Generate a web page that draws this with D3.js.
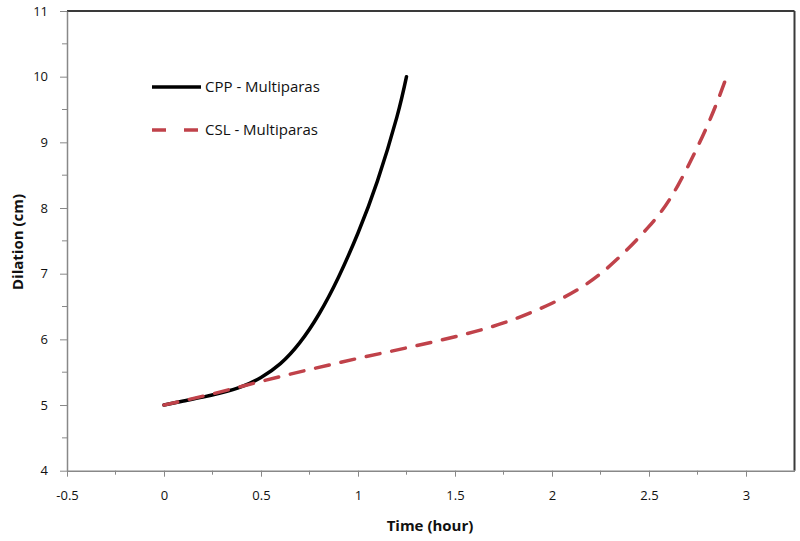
<!DOCTYPE html>
<html>
<head>
<meta charset="utf-8">
<script src="https://cdn.jsdelivr.net/npm/d3@7.9.0/dist/d3.min.js"></script>
<style>
  body { margin: 0; background: #fff; }
  svg { display: block; font-family: "Open Sans", "Liberation Sans", sans-serif; }
</style>
</head>
<body>
<svg id="chart" width="800" height="541"></svg>
<script>
// CPP curve
const cppTime = [0, 0.1, 0.2, 0.3, 0.4, 0.5, 0.6, 0.7, 0.8, 0.9, 1.0, 1.1, 1.2, 1.25];
const cppDil  = [5, 5.06, 5.12, 5.19, 5.28, 5.42, 5.63, 5.95, 6.39, 6.95, 7.62, 8.41, 9.38, 10];

// CSL curve
const cslTime = [0, 0.25, 0.5, 0.75, 1, 1.25, 1.5, 1.75, 2, 2.25, 2.5, 2.65, 2.8, 2.9];
const cslDil  = [5, 5.17, 5.36, 5.54, 5.71, 5.87, 6.04, 6.25, 6.55, 7.0, 7.72, 8.35, 9.25, 10];

const xTicks = [-0.5, 0, 0.5, 1, 1.5, 2, 2.5, 3];
const yTicks = [4, 5, 6, 7, 8, 9, 10, 11];
const seriesNames = ["CPP - Multiparas", "CSL - Multiparas"];

const svg = d3.select('#chart');
const mLeft = 67, mRight = 794.5, mTop = 11, mBottom = 470.7;

const x = d3.scaleLinear().domain([-0.5, 3.25]).range([mLeft, mRight]);
const y = d3.scaleLinear().domain([4, 11]).range([mBottom, mTop]);

// frame: top and right borders
svg.append('line').attr('x1', mLeft).attr('x2', mRight).attr('y1', mTop).attr('y2', mTop)
  .attr('stroke', '#3a3a3a').attr('stroke-width', 2);
svg.append('line').attr('x1', mRight).attr('x2', mRight).attr('y1', mTop).attr('y2', mBottom)
  .attr('stroke', '#3a3a3a').attr('stroke-width', 2);

// minor ticks
const minorX = d3.range(-0.25, 3.25, 0.5);
svg.selectAll('.mx').data(minorX).join('line')
  .attr('x1', d => x(d)).attr('x2', d => x(d)).attr('y1', mBottom).attr('y2', mBottom + 4)
  .attr('stroke', '#888');
const minorY = d3.range(4.5, 11, 1);
svg.selectAll('.my').data(minorY).join('line')
  .attr('x1', mLeft - 5).attr('x2', mLeft).attr('y1', d => y(d)).attr('y2', d => y(d))
  .attr('stroke', '#888');

// axes
const xAxis = svg.append('g').attr('transform', `translate(0,${mBottom})`)
  .call(d3.axisBottom(x).tickValues(xTicks).tickSize(6).tickSizeOuter(0).tickPadding(14)
    .tickFormat(d => String(d)));
const yAxis = svg.append('g').attr('transform', `translate(${mLeft},0)`)
  .call(d3.axisLeft(y).tickValues(yTicks).tickSize(7).tickSizeOuter(0).tickPadding(12)
    .tickFormat(d => String(d)));
[xAxis, yAxis].forEach(g => {
  g.select('.domain').attr('stroke', '#888').attr('stroke-width', 1.5);
  g.selectAll('.tick line').attr('stroke', '#888');
  g.selectAll('.tick text').attr('fill', '#111').attr('font-size', 13)
    .attr('font-family', '"Open Sans", sans-serif');
});

// curves (dashed one on top, like the original)
const line = d3.line().x(d => x(d[0])).y(d => y(d[1])).curve(d3.curveNatural);
svg.append('path').datum(d3.zip(cppTime, cppDil)).attr('d', line)
  .attr('fill', 'none').attr('stroke', '#000').attr('stroke-width', 3.5)
  .attr('stroke-linecap', 'round');
svg.append('path').datum(d3.zip(cslTime, cslDil)).attr('d', line)
  .attr('fill', 'none').attr('stroke', '#c0424a').attr('stroke-width', 3.5)
  .attr('stroke-dasharray', '14 12').attr('stroke-linecap', 'round');

// legend
const legend = svg.append('g');
legend.append('line').attr('x1', 152).attr('x2', 201).attr('y1', 87).attr('y2', 87)
  .attr('stroke', '#000').attr('stroke-width', 3.5);
legend.append('line').attr('x1', 152).attr('x2', 201).attr('y1', 130).attr('y2', 130)
  .attr('stroke', '#c0424a').attr('stroke-width', 3.5).attr('stroke-dasharray', '14 18');
legend.selectAll('text').data(seriesNames).join('text')
  .attr('x', 205).attr('y', (d, i) => 87 + i * 43).attr('dy', '0.35em')
  .attr('font-size', 15).attr('fill', '#111').text(d => d);

// axis titles
svg.append('text').attr('x', 430).attr('y', 531).attr('text-anchor', 'middle')
  .attr('font-size', 15).attr('font-weight', 'bold').attr('fill', '#111').text('Time (hour)');
svg.append('text').attr('transform', 'translate(23,242) rotate(-90)').attr('text-anchor', 'middle')
  .attr('font-size', 15).attr('font-weight', 'bold').attr('fill', '#111').text('Dilation (cm)');
</script>
</body>
</html>
